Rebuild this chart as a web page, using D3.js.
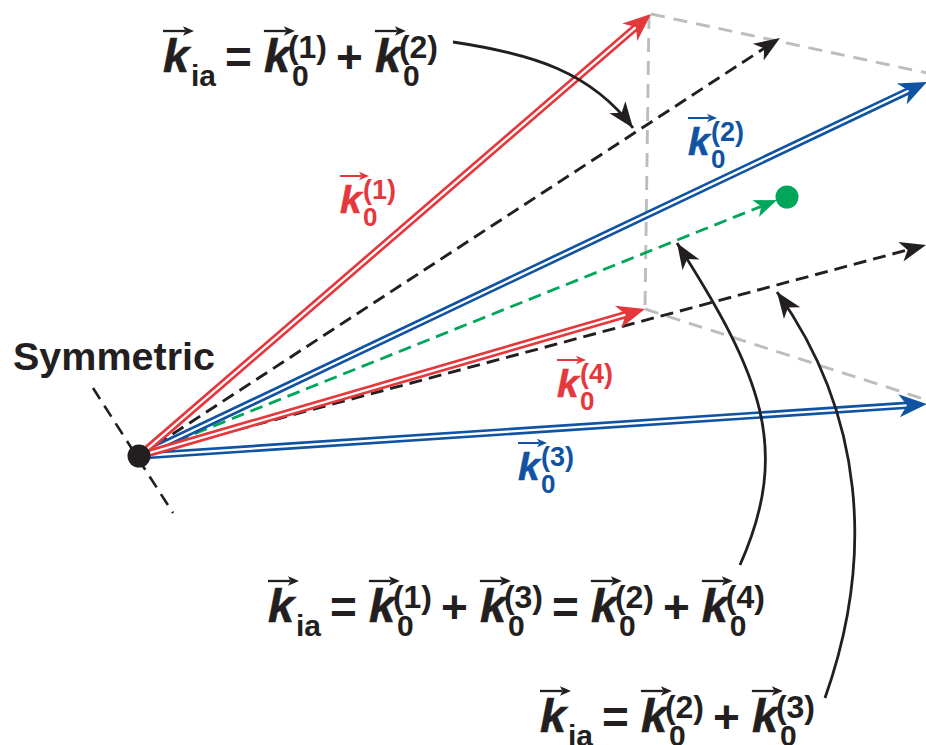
<!DOCTYPE html>
<html><head><meta charset="utf-8">
<script src="https://cdn.jsdelivr.net/npm/d3@7"></script>
<style>html,body{margin:0;padding:0;background:#fff;overflow:hidden}</style>
</head><body>
<svg id="c" width="926" height="745"></svg>
<script>
// ---------- data (diagram units, origin at the symmetric point, y up) ----------
const origin = [0, 0];
const waveVectorNames = ["k0(1)", "k0(2)", "k0(3)", "k0(4)"];
const waveVectorTips = [[512, 442], [788, 374], [788, 52], [506, 147]];
const sumVectorNames = ["k0(1)+k0(2)", "k0(2)+k0(3)"];
const sumVectorTips = [[641, 418], [787, 211]];
const symmetricVectorTip = [638, 256];
const symmetricPoint = [648, 259];
const guideFrom = [[512, 442], [510, 441], [506, 147]];
const guideTo = [[788, 383], [506, 147], [788, 56]];
const symmetryAxis = [[-46, 68], [34, -57]];
const pointerCurves = [
  [[314, 414], [394, 402], [452, 384], [494, 328]],
  [[601, -109], [653, 8], [622, 81], [538, 213]],
  [[686, -242], [736, -101], [725, 42], [638, 164]]
];
const vectorLabelSup = ["(1)", "(2)", "(3)", "(4)"];
const formulaTop = [["k", "ia", ""], "=", ["k", "0", "(1)"], "+", ["k", "0", "(2)"]];
const formulaMid = [["k", "ia", ""], "=", ["k", "0", "(1)"], "+", ["k", "0", "(3)"], "=", ["k", "0", "(2)"], "+", ["k", "0", "(4)"]];
const formulaBot = [["k", "ia", ""], "=", ["k", "0", "(2)"], "+", ["k", "0", "(3)"]];
const sideLabel = "Symmetric";

// ---------- layout / style ----------
const RED = "#e4383d", BLUE = "#0f53a2", GREEN = "#00a65a", GRAY = "#bdbdbd", BLACK = "#231f20";
const FONT = "'Liberation Sans', Arial, Helvetica, sans-serif";
const waveColors = [RED, BLUE, BLUE, RED];
const labelAnchors = [[340, 213], [688, 155], [518, 480], [557, 397]];
const formulaAnchors = [[163, 72], [268, 622], [540, 732]];

const svg = d3.select("#c");
const x = d3.scaleLinear().domain([-139, 787]).range([0, 926]);
const y = d3.scaleLinear().domain([-289, 456]).range([745, 0]);
const P = d => [x(d[0]), y(d[1])];
const line = d3.line();

function unit(a, b) { const dx = b[0] - a[0], dy = b[1] - a[1], l = Math.hypot(dx, dy); return [dx / l, dy / l]; }
function head(g, tip, u, L, W, N, color) {
  const nx = -u[1], ny = u[0];
  const bx = tip[0] - L * u[0], by = tip[1] - L * u[1];
  const pts = [tip, [bx + W * nx, by + W * ny], [tip[0] - (L - N) * u[0], tip[1] - (L - N) * u[1]], [bx - W * nx, by - W * ny]];
  g.append("path").attr("d", "M" + pts.map(p => p.join(",")).join("L") + "Z").attr("fill", color);
}
function arrow(g, fromD, toD, s) {
  const a = P(fromD), b = P(toD), u = unit(a, b);
  const end = [b[0] - (s.L - s.N) * u[0], b[1] - (s.L - s.N) * u[1]];
  g.append("path").attr("d", line([a, end])).attr("fill", "none")
    .attr("stroke", s.color).attr("stroke-width", s.width).attr("stroke-dasharray", s.dash || null);
  if (s.inner) g.append("path").attr("d", line([a, end])).attr("fill", "none")
    .attr("stroke", "#fff").attr("stroke-width", s.inner);
  head(g, b, u, s.L, s.W, s.N, s.color);
}

const gLines = svg.append("g");
// guides
guideFrom.forEach((f, i) => {
  gLines.append("path").attr("d", line([P(f), P(guideTo[i])])).attr("fill", "none")
    .attr("stroke", GRAY).attr("stroke-width", 2.9).attr("stroke-dasharray", "14,9");
});
// symmetry axis
gLines.append("path").attr("d", line(symmetryAxis.map(P))).attr("fill", "none")
  .attr("stroke", BLACK).attr("stroke-width", 2.6).attr("stroke-dasharray", "13,8");
// sum vectors (black dashed)
sumVectorTips.forEach(t => arrow(gLines, origin, t, { color: BLACK, width: 2.9, dash: "13,7", L: 26, W: 10, N: 7 }));
// green symmetric vector
arrow(gLines, origin, symmetricVectorTip, { color: GREEN, width: 2.8, dash: "13,7", L: 23, W: 9, N: 6 });
gLines.append("circle").attr("cx", x(symmetricPoint[0])).attr("cy", y(symmetricPoint[1])).attr("r", 11.5).attr("fill", GREEN);
// wave vectors: blue first then red
[2, 1, 3, 0].forEach(i => arrow(gLines, origin, waveVectorTips[i],
  { color: waveColors[i], width: 7.6, inner: 2.3, L: 28, W: 11.5, N: 8 }));
// origin dot
gLines.append("circle").attr("cx", x(origin[0])).attr("cy", y(origin[1])).attr("r", 11.5).attr("fill", BLACK);

// pointer curves
pointerCurves.forEach(c => {
  const p = c.map(P);
  const path = d3.path();
  path.moveTo(p[0][0], p[0][1]);
  path.bezierCurveTo(p[1][0], p[1][1], p[2][0], p[2][1], p[3][0], p[3][1]);
  gLines.append("path").attr("d", path.toString()).attr("fill", "none").attr("stroke", BLACK).attr("stroke-width", 2.8);
  head(gLines, p[3], unit(p[2], p[3]), 26, 10, 7, BLACK);
});

// ---------- text ----------
const gT = svg.append("g").attr("font-family", FONT).attr("font-weight", "bold");
function smallArrow(g, x0, yy, len, color, w, hl, hw) {
  g.append("path").attr("d", line([[x0, yy], [x0 + len - hl + 2, yy]])).attr("stroke", color).attr("stroke-width", w);
  head(g, [x0 + len, yy], [1, 0], hl, hw, 2.5, color);
}
function drawFormula(g, x0, base, tokens, o) {
  let cx = x0;
  tokens.forEach(t => {
    if (typeof t === "string") {
      cx += o.gapBefore;
      const tx = g.append("text").attr("x", cx).attr("y", base + o.opDy).attr("font-size", o.opSize).attr("fill", o.color).text(t);
      cx += tx.node().getComputedTextLength() + o.gapAfter;
    } else {
      const [k, sub, sup] = t;
      const kt = g.append("text").attr("x", cx).attr("y", base).attr("font-size", o.kSize).attr("font-style", "italic")
        .attr("fill", o.color).attr("stroke", o.color).attr("stroke-width", 0.6).text(k);
      smallArrow(g, cx + o.arrowX0, base + o.arrowDy, o.arrowLen, o.color, o.arrowW, o.headL, o.headW);
      let end = cx + kt.node().getComputedTextLength();
      if (sub) {
        const s = g.append("text").attr("x", cx + o.subDx).attr("y", base + o.subDy).attr("font-size", o.subSize).attr("fill", o.color).text(sub);
        end = Math.max(end, cx + o.subDx + s.node().getComputedTextLength());
      }
      if (sup) {
        const s = g.append("text").attr("x", cx + o.supDx).attr("y", base + o.supDy).attr("font-size", o.supSize).attr("fill", o.color).text(sup);
        end = Math.max(end, cx + o.supDx + s.node().getComputedTextLength());
      }
      cx = end;
    }
  });
}
const bigStyle = { color: BLACK, kSize: 47, subSize: 30, supSize: 32, opSize: 46, opDy: 1,
  subDx: 28, subDy: 14, supDx: 24, supDy: -14, gapBefore: 9, gapAfter: 12,
  arrowX0: 0, arrowDy: -41, arrowLen: 31, arrowW: 2.3, headL: 11, headW: 4.8 };
[formulaTop, formulaMid, formulaBot].forEach((f, i) =>
  drawFormula(gT, formulaAnchors[i][0], formulaAnchors[i][1], f, bigStyle));

waveVectorNames.forEach((n, i) => {
  drawFormula(gT, labelAnchors[i][0], labelAnchors[i][1], [["k", "0", vectorLabelSup[i]]],
    { color: waveColors[i], kSize: 39, subSize: 26, supSize: 27, opSize: 38, opDy: 0,
      subDx: 23, subDy: 13, supDx: 23, supDy: -14, gapBefore: 0, gapAfter: 0,
      arrowX0: 0, arrowDy: -37, arrowLen: 29, arrowW: 2, headL: 10, headW: 4.2 });
});

gT.append("text").attr("x", 13).attr("y", 370).attr("font-size", 39.5).attr("fill", BLACK).text(sideLabel);
</script></body></html>
